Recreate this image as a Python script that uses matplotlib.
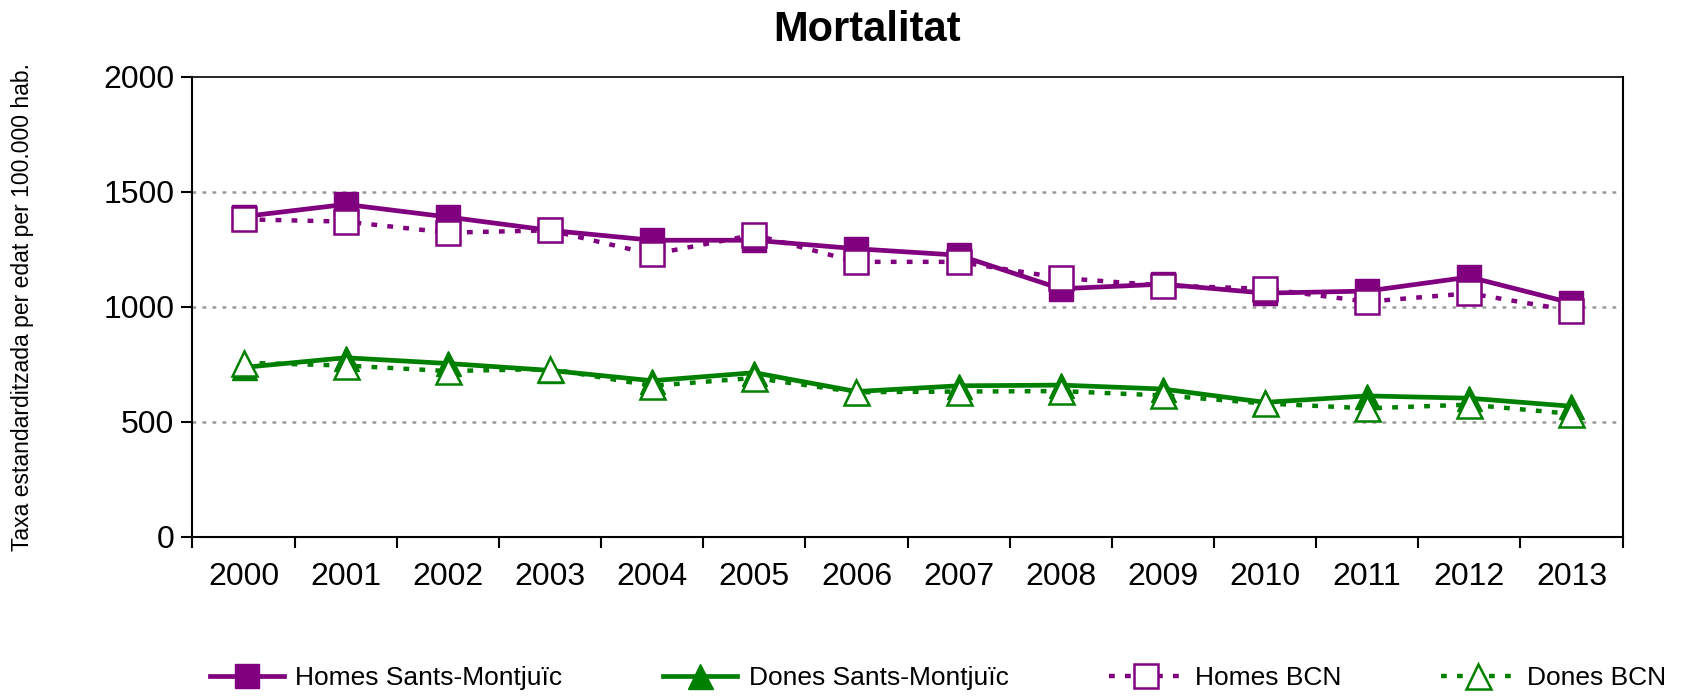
import matplotlib.pyplot as plt

plt.rcParams['font.family'] = ['Liberation Sans', 'DejaVu Sans']

years = ['2000', '2001', '2002', '2003', '2004', '2005', '2006',
         '2007', '2008', '2009', '2010', '2011', '2012', '2013']

homes_sm = [1392, 1445, 1390, 1332, 1289, 1289, 1252, 1224, 1078, 1098, 1059, 1068, 1129, 1016]
dones_sm = [736, 778, 753, 723, 678, 713, 631, 656, 659, 642, 584, 612, 602, 567]
homes_bcn = [1380, 1370, 1322, 1332, 1228, 1313, 1195, 1195, 1125, 1092, 1078, 1022, 1058, 983]
dones_bcn = [756, 744, 720, 729, 656, 690, 628, 631, 633, 614, 579, 558, 574, 534]

purple = '#800080'
green = '#008000'

fig = plt.figure(figsize=(16.96, 6.96), dpi=100)
ax = fig.add_axes([0.1135, 0.229, 0.8432, 0.6607])

x = range(len(years))
dash = (0, (1.3, 2.3))
ax.plot(x, homes_sm, color=purple, lw=3.4, marker='s', ms=17,
        mfc=purple, mec=purple, label='Homes Sants-Montjuïc', zorder=3)
ax.plot(x, dones_sm, color=green, lw=3.4, marker='^', ms=18,
        mfc=green, mec=green, label='Dones Sants-Montjuïc', zorder=3)
ax.plot(x, homes_bcn, color=purple, lw=3.2, ls=dash, marker='s', ms=17,
        mfc='white', mec=purple, mew=1.8, label='Homes BCN', zorder=4)
ax.plot(x, dones_bcn, color=green, lw=3.2, ls=dash, marker='^', ms=18,
        mfc='white', mec=green, mew=1.8, label='Dones BCN', zorder=4)

ax.set_xlim(-0.5, len(years) - 0.5)
ax.set_ylim(0, 2000)
ax.set_yticks([0, 500, 1000, 1500, 2000])
ax.set_xticks(list(x))
ax.set_xticklabels(years)
ax.set_xticks([i - 0.5 for i in range(len(years) + 1)], minor=True)
ax.tick_params(axis='x', which='major', length=0, pad=18, labelsize=23)
ax.tick_params(axis='x', which='minor', length=8, width=1.5, direction='out')
ax.tick_params(axis='y', length=8, width=1.5, direction='out', labelsize=23, pad=5)

for v in [500, 1000, 1500]:
    ax.axhline(v, color='#999999', lw=1.8, ls=(0, (1.5, 2.5)), zorder=1)

for side in ['left', 'bottom', 'right']:
    ax.spines[side].set_linewidth(1.5)
    ax.spines[side].set_color('black')
ax.spines['top'].set_linewidth(1.2)
ax.spines['top'].set_linestyle((0, (3, 1)))

ax.set_ylabel('Taxa estandarditzada per edat per 100.000 hab.', fontsize=16.5, labelpad=50)
fig.text(0.511, 0.941, 'Mortalitat', fontsize=30, fontweight='bold', ha='center', va='baseline')

fig.legend(loc='center', bbox_to_anchor=(0.553, 0.026), ncol=4, frameon=False,
           fontsize=19, handlelength=2.8, columnspacing=3.8, handletextpad=0.45)

fig.savefig('out.png', dpi=100)
